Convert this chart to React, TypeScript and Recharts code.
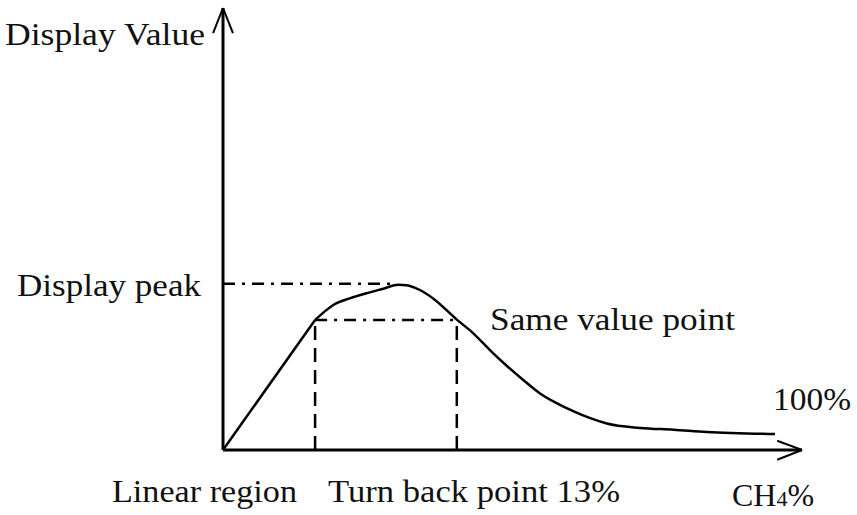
import React from "react";
import { ComposedChart, Line, XAxis, YAxis, ReferenceLine, Customized } from "recharts";

// Curve (x: CH4% axis units, y: display value units)
const linearPart = [
  { x: 0, y: 0 },
  { x: 16.7, y: 29.4 },
];
const curvePart = [
  { x: 16.7, y: 29.4 },
  { x: 18.8, y: 31.7 },
  { x: 20.0, y: 32.8 },
  { x: 23.0, y: 34.3 },
  { x: 26.1, y: 35.5 },
  { x: 29.1, y: 36.5 },
  { x: 31.8, y: 37.4 },
  { x: 33.3, y: 37.3 },
  { x: 35.7, y: 36.2 },
  { x: 38.1, y: 34.3 },
  { x: 42.4, y: 29.5 },
  { x: 45.4, y: 26.4 },
  { x: 48.4, y: 22.6 },
  { x: 51.5, y: 19.0 },
  { x: 54.5, y: 15.8 },
  { x: 57.5, y: 12.8 },
  { x: 60.5, y: 10.6 },
  { x: 63.5, y: 8.8 },
  { x: 66.6, y: 7.2 },
  { x: 69.6, y: 6.0 },
  { x: 75.6, y: 5.0 },
  { x: 81.7, y: 4.6 },
  { x: 87.7, y: 4.1 },
  { x: 100.1, y: 3.6 },
];

const peakValue = 37.6;
const peakX = 31;
const sameValue = 29.4;
const turnBackX = 16.7;
const sameValueX = 42.4;
const xMax = 105;
const yMax = 100;

const texts = [
  { t: "Display Value", x: 5, y: 45, w: 200 },
  { t: "Display peak", x: 17, y: 296, w: 184 },
  { t: "Same value point", x: 490, y: 330, w: 245 },
  { t: "100%", x: 773, y: 410, w: 78 },
  { t: "Linear region", x: 112, y: 502, w: 185 },
  { t: "Turn back point 13%", x: 328, y: 502, w: 292 },
];

const FONT = "'Liberation Serif', 'Times New Roman', serif";

const Labels = () => (
  <g>
    {texts.map((d) => (
      <text
        key={d.t}
        x={d.x}
        y={d.y}
        style={{ fontFamily: FONT, fontSize: 32, fill: "#111" }}
        textLength={d.w}
        lengthAdjust="spacingAndGlyphs"
      >
        {d.t}
      </text>
    ))}
    <text x={732} y={506} style={{ fontFamily: FONT, fontSize: 32, fill: "#111" }}>
      CH<tspan style={{ fontSize: 22 }}>4</tspan>%
    </text>
  </g>
);

export default function App() {
  return (
    <div style={{ position: "absolute", left: 0, top: 0, background: "#fff" }}>
      <ComposedChart
        width={857}
        height={515}
        margin={{ top: 8, right: 55, bottom: 65, left: 223 }}
      >
        <XAxis type="number" dataKey="x" domain={[0, xMax]} hide allowDataOverflow />
        <YAxis type="number" dataKey="y" domain={[0, yMax]} hide allowDataOverflow />

        {/* axes */}
        <ReferenceLine segment={[{ x: 0, y: 0 }, { x: xMax, y: 0 }]} stroke="#000" strokeWidth={3} ifOverflow="visible" />
        <ReferenceLine segment={[{ x: 0, y: 0 }, { x: 0, y: yMax }]} stroke="#000" strokeWidth={3} ifOverflow="visible" />
        {/* arrowheads */}
        <ReferenceLine segment={[{ x: -1.8, y: 94.3 }, { x: 0, y: yMax }]} stroke="#000" strokeWidth={2} ifOverflow="visible" />
        <ReferenceLine segment={[{ x: 1.8, y: 94.3 }, { x: 0, y: yMax }]} stroke="#000" strokeWidth={2} ifOverflow="visible" />
        <ReferenceLine segment={[{ x: 100.5, y: 2.1 }, { x: xMax, y: 0 }]} stroke="#000" strokeWidth={2} ifOverflow="visible" />
        <ReferenceLine segment={[{ x: 100.5, y: -2.2 }, { x: xMax, y: 0 }]} stroke="#000" strokeWidth={2} ifOverflow="visible" />

        {/* guide lines */}
        <ReferenceLine segment={[{ x: 0, y: peakValue }, { x: peakX, y: peakValue }]} stroke="#000" strokeWidth={2.5} strokeDasharray="12 7 3 7" ifOverflow="visible" />
        <ReferenceLine segment={[{ x: turnBackX, y: sameValue }, { x: sameValueX, y: sameValue }]} stroke="#000" strokeWidth={2.5} strokeDasharray="12 7 3 7" ifOverflow="visible" />
        <ReferenceLine segment={[{ x: turnBackX, y: 0 }, { x: turnBackX, y: sameValue }]} stroke="#000" strokeWidth={2.5} strokeDasharray="14 8" ifOverflow="visible" />
        <ReferenceLine segment={[{ x: sameValueX, y: 0 }, { x: sameValueX, y: sameValue }]} stroke="#000" strokeWidth={2.5} strokeDasharray="14 8" ifOverflow="visible" />

        <Line data={linearPart} dataKey="y" type="linear" stroke="#000" strokeWidth={2.5} dot={false} isAnimationActive={false} />
        <Line data={curvePart} dataKey="y" type="monotone" stroke="#000" strokeWidth={2.5} dot={false} isAnimationActive={false} />

        <Customized component={Labels} />
      </ComposedChart>
    </div>
  );
}
